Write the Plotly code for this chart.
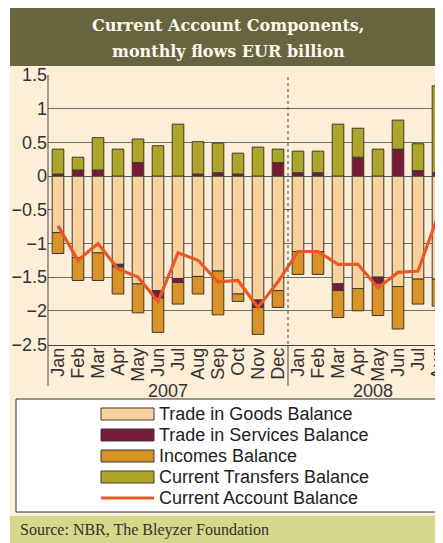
import plotly.graph_objects as go

W, H = 443, 543
OFF = 8  # the page puts the figure 8 px in from the window corner

months = ["Jan", "Feb", "Mar", "Apr", "May", "Jun", "Jul", "Aug", "Sep", "Oct", "Nov", "Dec",
          "Jan", "Feb", "Mar", "Apr", "May", "Jun", "Jul", "Aug"]
years = ["2007", "2008"]
goods = [-0.84, -1.21, -1.14, -1.31, -1.60, -1.70, -1.52, -1.49, -1.41, -1.75, -1.84, -1.70,
         -1.12, -1.12, -1.60, -1.67, -1.50, -1.64, -1.53, -1.53]
services = [0.03, 0.09, 0.09, -0.04, 0.20, -0.11, -0.06, 0.03, 0.05, 0.03, -0.11, 0.20,
            0.05, 0.05, -0.10, 0.28, -0.10, 0.40, 0.08, 0.05]
incomes = [-0.31, -0.34, -0.41, -0.40, -0.43, -0.51, -0.32, -0.26, -0.65, -0.11, -0.40, -0.25,
           -0.34, -0.34, -0.40, -0.33, -0.47, -0.63, -0.37, -0.40]
transfers = [0.37, 0.19, 0.48, 0.40, 0.35, 0.45, 0.77, 0.48, 0.44, 0.31, 0.43, 0.20,
             0.32, 0.32, 0.77, 0.43, 0.40, 0.43, 0.40, 1.29]
current_account = [-0.74, -1.25, -1.00, -1.38, -1.50, -1.86, -1.14, -1.25, -1.57, -1.55, -1.95, -1.57,
                   -1.12, -1.12, -1.31, -1.31, -1.66, -1.43, -1.41, -0.59]

COLORS = {
    "Trade in Goods Balance": "#F8D19C",
    "Trade in Services Balance": "#7A1A36",
    "Incomes Balance": "#DA9322",
    "Current Transfers Balance": "#ACA528",
    "Current Account Balance": "#E85A25",
}
CREAM = "#FDEED8"
FONT = "Liberation Sans, Arial, sans-serif"


def px(x):
    return (x - OFF) / W


def py(y):
    return 1 - (y - OFF) / H


x = list(range(len(months)))
fig = go.Figure()
for name, vals in [("Trade in Goods Balance", goods), ("Trade in Services Balance", services),
                   ("Incomes Balance", incomes), ("Current Transfers Balance", transfers)]:
    fig.add_trace(go.Bar(
        x=x, y=vals, name=name,
        marker=dict(color=COLORS[name], line=dict(color="#3a3a3a", width=1)),
        showlegend=False,
    ))
fig.add_trace(go.Scatter(
    x=x, y=current_account, name="Current Account Balance", mode="lines",
    line=dict(color=COLORS["Current Account Balance"], width=3.2),
    showlegend=False,
))

shapes = [
    # cream panel, title banner, source bar
    dict(type="rect", xref="paper", yref="paper", x0=px(10), x1=1, y0=py(516), y1=py(66),
         fillcolor=CREAM, line_width=0, layer="below"),
    dict(type="rect", xref="paper", yref="paper", x0=px(10), x1=1, y0=py(66), y1=1,
         fillcolor="#67653F", line_width=0, layer="below"),
    dict(type="rect", xref="paper", yref="paper", x0=px(10), x1=1, y0=0, y1=py(516),
         fillcolor="#D5D78B", line_width=0, layer="below"),
    # legend box
    dict(type="rect", xref="paper", yref="paper", x0=px(16), x1=1.01, y0=py(512), y1=py(399),
         fillcolor="white", line=dict(color="#333333", width=1), layer="below"),
    # year separators
    dict(type="line", xref="x", yref="paper", x0=11.5, x1=11.5, y0=py(344), y1=py(75),
         line=dict(color="#666666", width=1.2, dash="dot")),
    dict(type="line", xref="x", yref="paper", x0=11.5, x1=11.5, y0=py(386), y1=py(345),
         line=dict(color="#444444", width=1)),
    dict(type="line", xref="paper", yref="paper", x0=px(48), x1=px(48), y0=py(386), y1=py(75),
         line=dict(color="#444444", width=1)),
]

annotations = [
    dict(text="<b>Current Account Components,</b>", xref="paper", yref="paper",
         x=px(228), y=py(25), xanchor="center", yanchor="middle", showarrow=False,
         font=dict(family="DejaVu Serif", size=16, color="#FFF8EC")),
    dict(text="<b>monthly flows EUR billion</b>", xref="paper", yref="paper",
         x=px(228), y=py(51), xanchor="center", yanchor="middle", showarrow=False,
         font=dict(family="DejaVu Serif", size=16, color="#FFF8EC")),
    dict(text="Source: NBR, The Bleyzer Foundation", xref="paper", yref="paper",
         x=px(18), y=py(530), xanchor="left", yanchor="middle", showarrow=False,
         font=dict(family="Liberation Serif", size=16, color="#333333")),
    dict(text=years[0], xref="x", yref="paper", x=5.5, y=py(391), yanchor="middle",
         showarrow=False, font=dict(family=FONT, size=18, color="#333333")),
    dict(text=years[1], xref="x", yref="paper", x=15.75, y=py(391), yanchor="middle",
         showarrow=False, font=dict(family=FONT, size=18, color="#333333")),
]

# legend drawn by hand to get the wide swatches
rows = [414, 435, 456, 477, 498]
for name, ry in zip(COLORS, rows):
    if name == "Current Account Balance":
        shapes.append(dict(type="line", xref="paper", yref="paper", x0=px(101), x1=px(154),
                           y0=py(ry), y1=py(ry), line=dict(color=COLORS[name], width=3)))
    else:
        shapes.append(dict(type="rect", xref="paper", yref="paper", x0=px(101), x1=px(154),
                           y0=py(ry + 6), y1=py(ry - 6), fillcolor=COLORS[name],
                           line=dict(color="#3a3a3a", width=1)))
    annotations.append(dict(text=name, xref="paper", yref="paper", x=px(157), y=py(ry),
                            xanchor="left", yanchor="middle", showarrow=False,
                            font=dict(family=FONT, size=18, color="#222222")))

fig.update_layout(
    width=W, height=H,
    margin=dict(l=0, r=0, t=0, b=0, pad=0),
    paper_bgcolor="white",
    plot_bgcolor="rgba(0,0,0,0)",
    barmode="relative",
    bargap=0.42,
    showlegend=False,
    font=dict(family=FONT, size=18, color="#333333"),
    xaxis=dict(domain=[px(48), px(443)], range=[-0.5, 19.25], tickmode="array", tickvals=x,
               ticktext=months, tickangle=-90, showgrid=False, zeroline=False,
               showline=True, linecolor="#444444", ticks="", tickfont=dict(size=18),
               ticklabelstandoff=-5, automargin=False),
    yaxis=dict(domain=[py(344.5), py(75)], range=[-2.5, 1.5], dtick=0.5,
               gridcolor="#6e6e6e", gridwidth=1.3, zeroline=True, zerolinecolor="#555555",
               zerolinewidth=1.3, showline=False, ticks="", tickfont=dict(size=18),
               automargin=False),
    shapes=shapes,
    annotations=annotations,
)

fig.write_html("out.html")
